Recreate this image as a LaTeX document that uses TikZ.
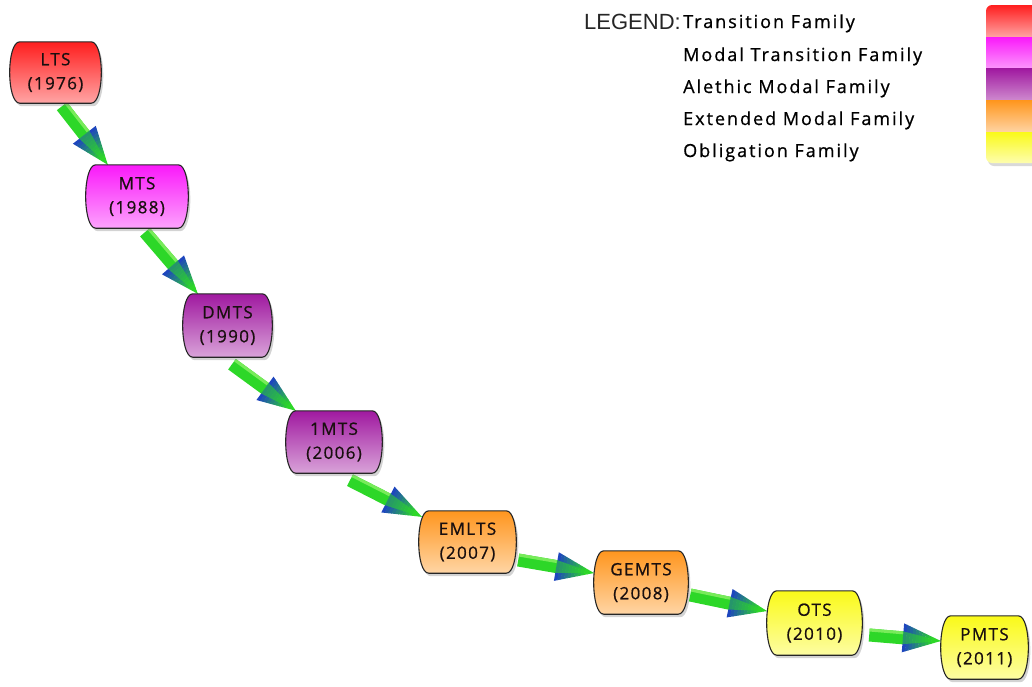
\documentclass[tikz,border=0pt]{standalone}
\usepackage{fontspec}
\newfontfamily\handfont[LetterSpace=8,FakeBold=0.8]{Open Sans}
\newfontfamily\handwide[LetterSpace=11,FakeBold=0.8]{Open Sans}
\newfontfamily\legfont{Liberation Sans}
\usetikzlibrary{calc,shadows}
\pgfdeclarelayer{back}
\pgfdeclarelayer{mid}
\pgfsetlayers{back,mid,main}
\definecolor{famred}{RGB}{255,30,30}
\definecolor{fammag}{RGB}{250,25,250}
\definecolor{fampur}{RGB}{160,25,160}
\definecolor{famora}{RGB}{255,150,30}
\definecolor{famyel}{RGB}{250,250,25}
\definecolor{arrowgreen}{RGB}{45,215,40}
\definecolor{arrowlight}{RGB}{120,235,90}
\definecolor{arrowblue}{RGB}{30,70,190}
\definecolor{inkcol}{RGB}{25,15,15}
\tikzset{
  famnode/.style={shape=rectangle, draw=none, inner sep=0pt,
    font=\handfont\fontsize{17}{24}\selectfont, text=inkcol},
  boxshape/.style={draw=black!85, line width=1.1pt,
    drop shadow={shadow xshift=2pt, shadow yshift=-3pt, opacity=0.35}},
  legtext/.style={anchor=base west, inner sep=0pt,
    font=\handwide\fontsize{18}{22}\selectfont, text=black},
  leghead/.style={anchor=base east, inner sep=0pt,
    font=\legfont\fontsize{22}{24}\selectfont, text=black!85},
}
\newcommand\famtext[2]{\raisebox{-3pt}{\begin{tabular}{@{}c@{}}#1\\#2\end{tabular}}}
\newcommand\barrel[2]{%
  \begin{pgfonlayer}{mid}
  \path[boxshape, top color=#2, middle color=#2!85!white, bottom color=#2!40!white]
    ($(#1.north west)+(10pt,0)$) -- ($(#1.north east)+(-10pt,0)$)
    .. controls ($(#1.north east)+(3.5pt,0)$) and ($(#1.south east)+(3.5pt,0)$) ..
    ($(#1.south east)+(-10pt,0)$) -- ($(#1.south west)+(10pt,0)$)
    .. controls ($(#1.south west)+(-3.5pt,0)$) and ($(#1.north west)+(-3.5pt,0)$) .. cycle;
  \end{pgfonlayer}}
\newcommand\fatarrow[2]{%
  \path let \p1=(#1), \p2=(#2) in \pgfextra{%
    \pgfmathsetmacro\arang{atan2(\y2-\y1,\x2-\x1)}%
    \pgfmathsetmacro\arlen{veclen(\x2-\x1,\y2-\y1)}%
    \xdef\gang{\arang}\xdef\glen{\arlen}\xdef\gx{\x1}\xdef\gy{\y1}};
  \begin{pgfonlayer}{back}
  \begin{scope}[shift={(\gx,\gy)}, rotate=\gang, x=1pt, y=1pt]
    \fill[arrowgreen] (0,-6.5) rectangle ({\glen-37.5},6.5);
    \fill[arrowlight] (0,3.5) rectangle ({\glen-37.5},6.5);
    \foreach \i in {0,...,11}{%
      \pgfmathsetmacro\arxa{\glen-38+\i*38/12}%
      \pgfmathsetmacro\arxb{\glen-38+(\i+1)*38/12+0.4}%
      \pgfmathsetmacro\arwa{14.5*(1-\i/12)}%
      \pgfmathsetmacro\arwb{max(0,14.5*(1-(\i+1.1)/12))}%
      \pgfmathtruncatemacro\arpc{min(100,100*\i/9)}%
      \fill[arrowgreen!\arpc!arrowblue] (\arxa,\arwa) -- (\arxb,\arwb) -- (\arxb,-\arwb) -- (\arxa,-\arwa) -- cycle;
    }
    \fill[arrowgreen, opacity=0.55] ({\glen-38.5},-6.5) -- (\glen,0) -- ({\glen-38.5},6.5) -- cycle;
  \end{scope}
  \end{pgfonlayer}}
\begin{document}
\begin{tikzpicture}[x=1pt,y=-1pt]
\useasboundingbox (0,0) rectangle (1032,686);

% family nodes
\node[famnode, minimum width=91pt, minimum height=61pt] (LTS) at (55.5,72.5) {\famtext{LTS}{(1976)}};
\node[famnode, minimum width=102pt, minimum height=63pt] (MTS) at (137,196.5) {\famtext{MTS}{(1988)}};
\node[famnode, minimum width=89pt, minimum height=63pt] (DMTS) at (227.5,325.5) {\famtext{DMTS}{(1990)}};
\node[famnode, minimum width=96pt, minimum height=62pt] (oneMTS) at (334,442) {\famtext{1MTS}{(2006)}};
\node[famnode, minimum width=97pt, minimum height=62pt] (EMLTS) at (467.5,542) {\famtext{EMLTS}{(2007)}};
\node[famnode, minimum width=94pt, minimum height=63pt] (GEMTS) at (641,582.5) {\famtext{GEMTS}{(2008)}};
\node[famnode, minimum width=95pt, minimum height=64pt] (OTS) at (814.5,623) {\famtext{OTS}{(2010)}};
\node[famnode, minimum width=87pt, minimum height=63pt] (PMTS) at (984.5,647.5) {\famtext{PMTS}{(2011)}};

\barrel{LTS}{famred}
\barrel{MTS}{fammag}
\barrel{DMTS}{fampur}
\barrel{oneMTS}{fampur}
\barrel{EMLTS}{famora}
\barrel{GEMTS}{famora}
\barrel{OTS}{famyel}
\barrel{PMTS}{famyel}

% connectors
\fatarrow{$(LTS.south)+(6.5,3)$}{$(MTS.north west)+(22,0)$}
\fatarrow{$(MTS.south)+(8,4)$}{$(DMTS.north west)+(15,0)$}
\fatarrow{$(DMTS.south)+(4.5,7)$}{$(oneMTS.north west)+(10,0)$}
\fatarrow{$(oneMTS.south)+(16,7)$}{$(EMLTS.north west)+(3,6)$}
\fatarrow{$(EMLTS.east)+(2,18)$}{$(GEMTS.west)+(0,-9.5)$}
\fatarrow{$(GEMTS.east)+(2,12.5)$}{$(OTS.west)+(0,-12)$}
\fatarrow{$(OTS.east)+(7,12)$}{$(PMTS.west)+(0,-6.5)$}

% legend
\node[leghead] (lgh) at (681,29) {LEGEND:};
\node[legtext] (lg1) at (683,28) {Transition Family};
\node[legtext] (lg2) at (683,61) {Modal Transition Family};
\node[legtext] (lg3) at (683,93) {Alethic Modal Family};
\node[legtext] (lg4) at (683,125) {Extended Modal Family};
\node[legtext] (lg5) at (683,157) {Obligation Family};

\begin{scope}
  \clip (0,0) rectangle (1032,686);
  \fill[black, opacity=0.15, rounded corners=6pt] (988,8) rectangle (1045,166);
  \clip[rounded corners=6pt] (986,5) rectangle (1045,163);
  \shade[top color=famred, bottom color=famred!40!white] (986,5) rectangle (1045,37.5);
  \shade[top color=fammag, bottom color=fammag!45!white] (986,37) rectangle (1045,69);
  \shade[top color=fampur, bottom color=fampur!50!white] (986,68.5) rectangle (1045,101);
  \shade[top color=famora, bottom color=famora!40!white] (986,100.5) rectangle (1045,132.5);
  \shade[top color=famyel, bottom color=famyel!35!white] (986,132) rectangle (1045,163);
\end{scope}
\end{tikzpicture}
\end{document}
